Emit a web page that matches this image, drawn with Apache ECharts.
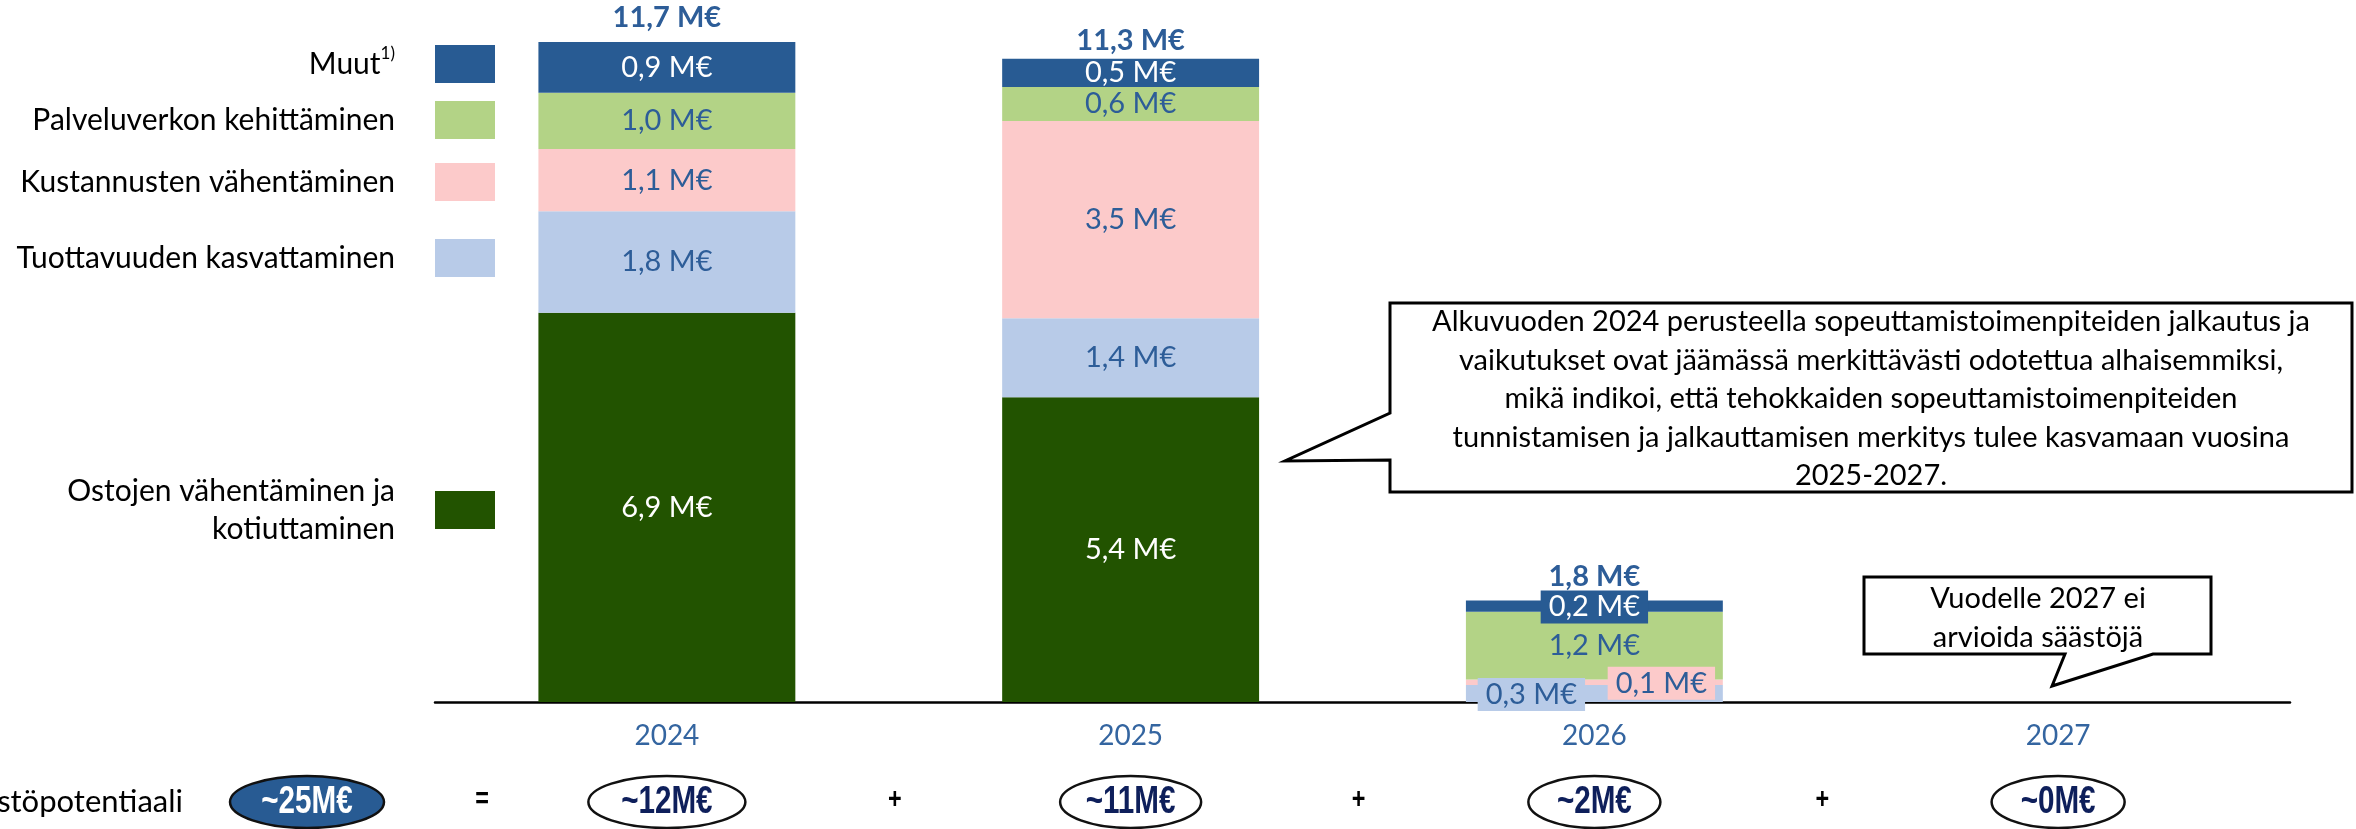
<!DOCTYPE html>
<html>
<head>
<meta charset="utf-8">
<script src="https://cdn.jsdelivr.net/npm/echarts@6/dist/echarts.min.js"></script>
<style>
  html, body { margin: 0; padding: 0; background: #ffffff; }
  #chart { width: 2356px; height: 829px; }
</style>
</head>
<body>
<div id="chart"></div>
<script>
// Savings by year and by measure group (M€)
const years = ['2024', '2025', '2026', '2027'];
const ostot = [6.9, 5.4, 0, null];          // Ostojen vähentäminen ja kotiuttaminen
const tuottavuus = [1.8, 1.4, 0.3, null];   // Tuottavuuden kasvattaminen
const kustannukset = [1.1, 3.5, 0.1, null]; // Kustannusten vähentäminen
const palveluverkko = [1.0, 0.6, 1.2, null];// Palveluverkon kehittäminen
const muut = [0.9, 0.5, 0.2, null];         // Muut
const totals = [11.7, 11.3, 1.8, null];
const yearPotential = ['~12M€', '~11M€', '~2M€', '~0M€'];
const totalPotential = '~25M€';

const FONT = 'Lato, "Open Sans", sans-serif';
const BOLD_SANS = '"Liberation Sans", Arial, sans-serif';
const NAVY = '#285B93';
const LABEL_BLUE = '#2D5D98';

const fmt = v => v.toFixed(1).replace('.', ',') + ' M€';

// series definitions, bottom of the stack first
const seriesDefs = [
  { name: 'Ostojen vähentäminen ja kotiuttaminen', data: ostot, color: '#225300', text: '#ffffff', legendY: 510 },
  { name: 'Tuottavuuden kasvattaminen', data: tuottavuus, color: '#B8CBE8', text: LABEL_BLUE, legendY: 258 },
  { name: 'Kustannusten vähentäminen', data: kustannukset, color: '#FCCACA', text: LABEL_BLUE, legendY: 182 },
  { name: 'Palveluverkon kehittäminen', data: palveluverkko, color: '#B3D386', text: LABEL_BLUE, legendY: 120 },
  { name: 'Muut', data: muut, color: NAVY, text: '#ffffff', legendY: 64 }
];

// the thin 2026 segments carry their labels beside the centre on a boxed background
const labelTweaks = {
  'Tuottavuuden kasvattaminen': { 2: { offset: [-63, 1], backgroundColor: '#B8CBE8', padding: [2, 8] } },
  'Kustannusten vähentäminen': { 2: { offset: [67, 1], backgroundColor: '#FCCACA', padding: [2, 8] } },
  'Muut': { 2: { offset: [0, 1], backgroundColor: NAVY, padding: [2, 8] } }
};

const barSeries = seriesDefs.map(def => ({
  name: def.name,
  type: 'bar',
  stack: 'savings',
  barWidth: '55.4%',
  itemStyle: { color: def.color },
  label: {
    show: true,
    position: 'inside',
    color: def.text,
    fontFamily: FONT,
    fontSize: 29,
    formatter: p => (p.value ? fmt(p.value) : '')
  },
  data: def.data.map((v, i) => {
    const tweak = labelTweaks[def.name] && labelTweaks[def.name][i];
    return tweak ? { value: v, label: tweak } : v;
  })
}));

// invisible points at each year's total, carrying the bold total label
const totalSeries = {
  name: 'Yhteensä',
  type: 'line',
  data: totals,
  symbol: 'circle',
  symbolSize: 1,
  showSymbol: true,
  itemStyle: { color: 'rgba(0,0,0,0)' },
  lineStyle: { width: 0, opacity: 0 },
  silent: true,
  z: 5,
  label: {
    show: true,
    position: 'top',
    distance: 9,
    color: LABEL_BLUE,
    fontFamily: FONT,
    fontWeight: 'bold',
    fontSize: 29,
    formatter: p => (p.value != null ? fmt(p.value) : '')
  }
};

const legendFormat = {
  'Muut': '{m|Muut}{s|1)}',
  'Ostojen vähentäminen ja kotiuttaminen': 'Ostojen vähentäminen ja\nkotiuttaminen'
};

const legends = seriesDefs.map(def => {
  const text = legendFormat[def.name] || def.name;
  const lines = text.split('\n').length;
  return {
    data: [def.name],
    orient: 'vertical',
    right: 2356 - 495,
    top: def.legendY - lines * 38 / 2,
    padding: 0,
    align: 'right',
    icon: 'rect',
    itemWidth: 60,
    itemHeight: 38,
    selectedMode: false,
    formatter: () => text,
    textStyle: {
      fontFamily: FONT,
      fontSize: 30,
      lineHeight: 38,
      color: '#000000',
      padding: [0, 35, 0, 0],
      align: 'right',
      rich: {
        m: { fontFamily: FONT, fontSize: 30, lineHeight: 38, color: '#000000' },
        s: { fontFamily: FONT, fontSize: 17, lineHeight: 24, verticalAlign: 'top', color: '#000000' }
      }
    }
  };
});

const chart = echarts.init(document.getElementById('chart'), null, { renderer: 'canvas' });

chart.setOption({
  animation: false,
  backgroundColor: '#ffffff',
  legend: legends,
  grid: { left: 435, right: 66, top: 25, bottom: 127 },
  xAxis: {
    type: 'category',
    data: years,
    axisLine: { show: true, lineStyle: { color: '#000000', width: 2.5 } },
    axisTick: { show: false },
    axisLabel: { color: '#3465A0', fontFamily: FONT, fontSize: 28, margin: 20 }
  },
  yAxis: {
    type: 'value',
    min: 0,
    max: 12,
    show: false,
    splitLine: { show: false }
  },
  series: [...barSeries, totalSeries]
});

// bottom row: total potential = sum of yearly potentials, plus the two callouts
const rowY = 802;
const ellipseWidths = [157, 141, 132, 133];
const cx = years.map(y => chart.convertToPixel({ xAxisIndex: 0 }, y));
const graphics = [];

// condensed bold text for the ellipse figures
const narrowText = (text, x, y, size, fill) => ({
  type: 'text',
  x: x, y: y, scaleX: 0.78,
  style: { text: text, x: 0, y: 0, align: 'center', verticalAlign: 'middle',
    fontFamily: BOLD_SANS, fontWeight: 'bold', fontSize: size, fill: fill }
});

graphics.push({
  type: 'text', style: { text: 'Säästöpotentiaali', x: 183, y: rowY, align: 'right', verticalAlign: 'middle',
    fontFamily: FONT, fontSize: 31, fill: '#000000' }
});
graphics.push({
  type: 'ellipse', shape: { cx: 307, cy: rowY, rx: 77, ry: 26 },
  style: { fill: NAVY, stroke: '#111111', lineWidth: 2.5 }
});
graphics.push(narrowText(totalPotential, 307, rowY + 1, 38, '#ffffff'));
graphics.push(narrowText('=', 482, rowY - 2, 30, '#000000'));
years.forEach((y, i) => {
  graphics.push({
    type: 'ellipse', shape: { cx: cx[i], cy: rowY, rx: ellipseWidths[i] / 2, ry: 26 },
    style: { fill: '#ffffff', stroke: '#111111', lineWidth: 2.5 }
  });
  graphics.push(narrowText(yearPotential[i], cx[i], rowY + 1, 38, '#0E1F5B'));
  if (i > 0) {
    graphics.push(narrowText('+', (cx[i - 1] + cx[i]) / 2 - 4, rowY - 2, 30, '#000000'));
  }
});

// callout pointing at the 2025 bar
graphics.push({
  type: 'polygon',
  shape: { points: [[1390, 303], [2352, 303], [2352, 492], [1390, 492], [1390, 460], [1285, 461], [1390, 413]] },
  style: { fill: '#ffffff', stroke: '#000000', lineWidth: 3 }
});
graphics.push({
  type: 'text',
  style: {
    text: 'Alkuvuoden 2024 perusteella sopeuttamistoimenpiteiden jalkautus ja\n' +
          'vaikutukset ovat jäämässä merkittävästi odotettua alhaisemmiksi,\n' +
          'mikä indikoi, että tehokkaiden sopeuttamistoimenpiteiden\n' +
          'tunnistamisen ja jalkauttamisen merkitys tulee kasvamaan vuosina\n' +
          '2025-2027.',
    x: 1871, y: 399, align: 'center', verticalAlign: 'middle',
    fontFamily: FONT, fontSize: 29, lineHeight: 38.5, fill: '#000000'
  }
});

// callout for 2027
graphics.push({
  type: 'polygon',
  shape: { points: [[1864, 577], [2211, 577], [2211, 654], [2153, 654], [2052, 686], [2065, 654], [1864, 654]] },
  style: { fill: '#ffffff', stroke: '#000000', lineWidth: 3 }
});
graphics.push({
  type: 'text',
  style: {
    text: 'Vuodelle 2027 ei\narvioida säästöjä',
    x: 2038, y: 618, align: 'center', verticalAlign: 'middle',
    fontFamily: FONT, fontSize: 29, lineHeight: 38.5, fill: '#000000'
  }
});

chart.setOption({ graphic: graphics });
</script>
</body>
</html>
